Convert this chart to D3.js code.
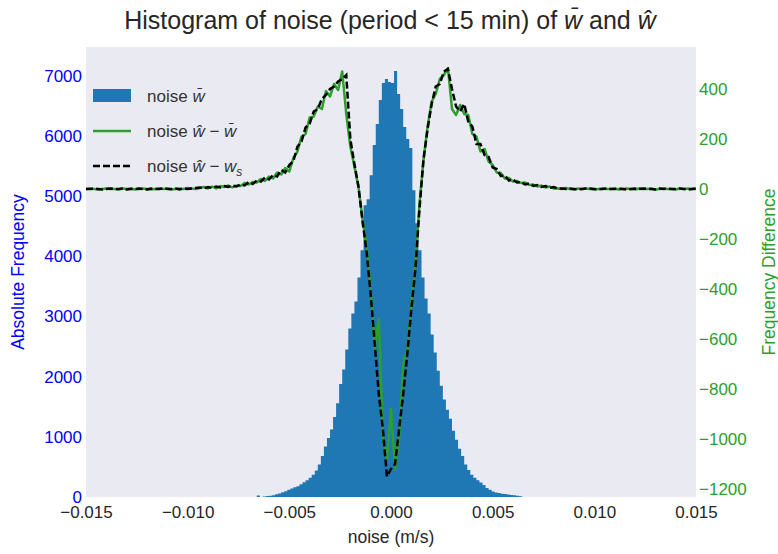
<!DOCTYPE html>
<html><head><meta charset="utf-8">
<script src="https://cdn.jsdelivr.net/npm/d3@7"></script>
<style>
body{margin:0;background:#fff;}
text{font-family:"Liberation Sans",Arial,sans-serif;}
</style></head>
<body><svg id="c" width="778" height="554"></svg>
<script>
// ---- data ----
const binStart = -0.0066;
const binWidth = 0.00015;
const histCounts = [25, 0, 8, 15, 20, 30, 45, 60, 80, 95,
 120, 140, 160, 180, 210, 245, 280, 320, 370, 440,
 540, 680, 840, 980, 1120, 1330, 1560, 1880, 2120, 2450,
 2800, 3050, 3250, 3650, 4100, 4850, 4950, 5350, 5850, 6200,
 6600, 6880, 6950, 6900, 6880, 7080, 6700, 6450, 6150, 5950,
 5800, 5100, 4550, 4100, 3650, 3300, 3050, 2700, 2400, 2100,
 1850, 1620, 1450, 1300, 1100, 950, 800, 680, 540, 450,
 370, 320, 280, 240, 200, 150, 120, 90, 75, 65,
 55, 50, 42, 35, 28, 20, 12];

const diffStart = -0.015;
const diffStep = 0.0002;
const diffHatBar = [0,2,0,-2,0,2,0,0,-2,2, 0,2,-2,0,2,0,-2,0,2,0, 2,-2,0,2,0,4,2,0,
 4,8,2,10,2,12,8,14,6,14, 12,24,18,28,26,40,32,50,42,66, 58,84,70,124,150,210,220,286,290,330,
 320,392,370,420,396,470,300,170,90,8, -120,-230,-400,-640,-520,-1000,-1080,-880,-1120,-1000,
 -700,-640,-460,-300,-60,116,250,350,380,440, 456,484,320,296,336,300,296,220,210,150,
 160,110,96,66,64,42,44,30,32,24, 26,16,18,10,14,6,10,2,
 2,0,4,0,-2,2,0,2,0,-2, 0,2,0,0,2,-2,0,2,0,-2, 2,0,0,2,-2,0,2,0,0,-2, 2,0,2,0,0];
const diffHatS = [0,0,2,0,-2,0,2,0,0,2, -2,0,0,2,0,-2,2,0,0,2, 0,0,2,-2,2,0,2,4,
 6,2,8,4,10,6,12,8,14,10, 18,14,28,20,34,30,46,38,56,50, 76,66,96,112,170,190,246,262,310,320,
 360,376,400,410,430,440,456,200,100,10, -130,-250,-420,-620,-820,-960,-1150,-1120,-1100,-960,
 -820,-660,-480,-320,-80,120,240,340,410,420, 470,480,400,330,310,340,270,250,180,180,
 136,128,86,80,52,54,34,38,26,28, 18,22,12,16,8,12,4,8,
 2,2,0,2,0,-2,0,2,2,0, -2,0,2,0,0,2,0,-2,0,2, 0,2,0,0,-2,2,0,2,0,0, 2,0,-2,0,2];

const xTicks = [-0.015,-0.010,-0.005,0,0.005,0.010,0.015];
const yLeftTicks = [0,1000,2000,3000,4000,5000,6000,7000];
const yRightTicks = [-1200,-1000,-800,-600,-400,-200,0,200,400];

// ---- layout ----
const L=86,R=696,T=47,B=497;
const svg = d3.select("#c");
const x = d3.scaleLinear([-0.015,0.015],[L,R]);
const yL = d3.scaleLinear([0,7480],[B,T]);
const yR = d3.scaleLinear([-1232,568],[B,T]);
const blue="#0000ff", green="#2ca02c", histC="#1f77b4", dark="#262626";
const fmtMinus = s => s.replace("-","\u2212");

svg.append("rect").attr("x",L).attr("y",T).attr("width",R-L).attr("height",B-T).attr("fill","#eaeaf2");

// histogram as one stepped area (no seams between bins)
const histPts = histCounts.map((c,i)=>({e:binStart+i*binWidth, c}));
histPts.push({e:binStart+histCounts.length*binWidth, c:histCounts[histCounts.length-1]});
const area = d3.area().curve(d3.curveStepAfter).x(d=>x(d.e)).y0(B).y1(d=>yL(d.c));
svg.append("path").attr("d",area(histPts)).attr("fill",histC);

// difference lines
const line = d3.line().x((d,i)=>x(diffStart+i*diffStep)).y(d=>yR(d));
svg.append("path").attr("d",line(diffHatBar)).attr("fill","none").attr("stroke",green).attr("stroke-width",2.5).attr("stroke-linejoin","round");
svg.append("path").attr("d",line(diffHatS)).attr("fill","none").attr("stroke","#000").attr("stroke-width",2.5).attr("stroke-dasharray","7,3");

// axes
const ax = svg.append("g").attr("transform",`translate(0,${B})`)
  .call(d3.axisBottom(x).tickValues(xTicks).tickSize(0).tickPadding(9).tickFormat(d=>fmtMinus(d3.format(".3f")(d))));
ax.select(".domain").remove();
ax.selectAll("text").attr("font-size",17).attr("fill",dark).attr("font-family","Liberation Sans, Arial");

const al = svg.append("g").attr("transform",`translate(${L},0)`)
  .call(d3.axisLeft(yL).tickValues(yLeftTicks).tickSize(0).tickPadding(4).tickFormat(d3.format("d")));
al.select(".domain").remove();
al.selectAll("text").attr("font-size",17).attr("fill",blue).attr("font-family","Liberation Sans, Arial");

const ar = svg.append("g").attr("transform",`translate(${R},0)`)
  .call(d3.axisRight(yR).tickValues(yRightTicks).tickSize(0).tickPadding(3).tickFormat(d=>fmtMinus(String(d))));
ar.select(".domain").remove();
ar.selectAll("text").attr("font-size",17).attr("fill",green).attr("font-family","Liberation Sans, Arial");

// labels
svg.append("text").attr("x",(L+R)/2).attr("y",543).attr("text-anchor","middle").attr("font-size",17.5).attr("fill",dark).text("noise (m/s)");
svg.append("text").attr("transform",`translate(24,${(T+B)/2}) rotate(-90)`).attr("text-anchor","middle").attr("font-size",17.5).attr("fill",blue).text("Absolute Frequency");
svg.append("text").attr("transform",`translate(775,${(T+B)/2}) rotate(-90)`).attr("text-anchor","middle").attr("font-size",17.5).attr("fill",green).text("Frequency Difference");

// title
const title = svg.append("text").attr("x",390).attr("y",29).attr("text-anchor","middle").attr("font-size",25).attr("fill",dark);
title.append("tspan").text("Histogram of noise (period < 15 min) of ");
title.append("tspan").attr("font-style","italic").text("w\u0304");
title.append("tspan").text(" and ");
title.append("tspan").attr("font-style","italic").text("\u0175");

// legend
const lg = svg.append("g").attr("font-size",17).attr("fill","#333");
lg.append("rect").attr("x",93).attr("y",89).attr("width",38).attr("height",13).attr("fill",histC);
lg.append("line").attr("x1",93).attr("x2",131).attr("y1",131).attr("y2",131).attr("stroke",green).attr("stroke-width",2.5);
lg.append("line").attr("x1",93).attr("x2",131).attr("y1",166).attr("y2",166).attr("stroke","#000").attr("stroke-width",2.5).attr("stroke-dasharray","7,3");
const t1 = lg.append("text").attr("x",147).attr("y",102);
t1.append("tspan").text("noise ");
t1.append("tspan").attr("font-style","italic").text("w\u0304");
const t2 = lg.append("text").attr("x",147).attr("y",137);
t2.append("tspan").text("noise ");
t2.append("tspan").attr("font-style","italic").text("\u0175");
t2.append("tspan").text(" \u2212 ");
t2.append("tspan").attr("font-style","italic").text("w\u0304");
const t3 = lg.append("text").attr("x",147).attr("y",172);
t3.append("tspan").text("noise ");
t3.append("tspan").attr("font-style","italic").text("\u0175");
t3.append("tspan").text(" \u2212 ");
t3.append("tspan").attr("font-style","italic").text("w");
t3.append("tspan").attr("font-style","italic").attr("font-size",12).attr("dy",4).text("s");
</script></body></html>
